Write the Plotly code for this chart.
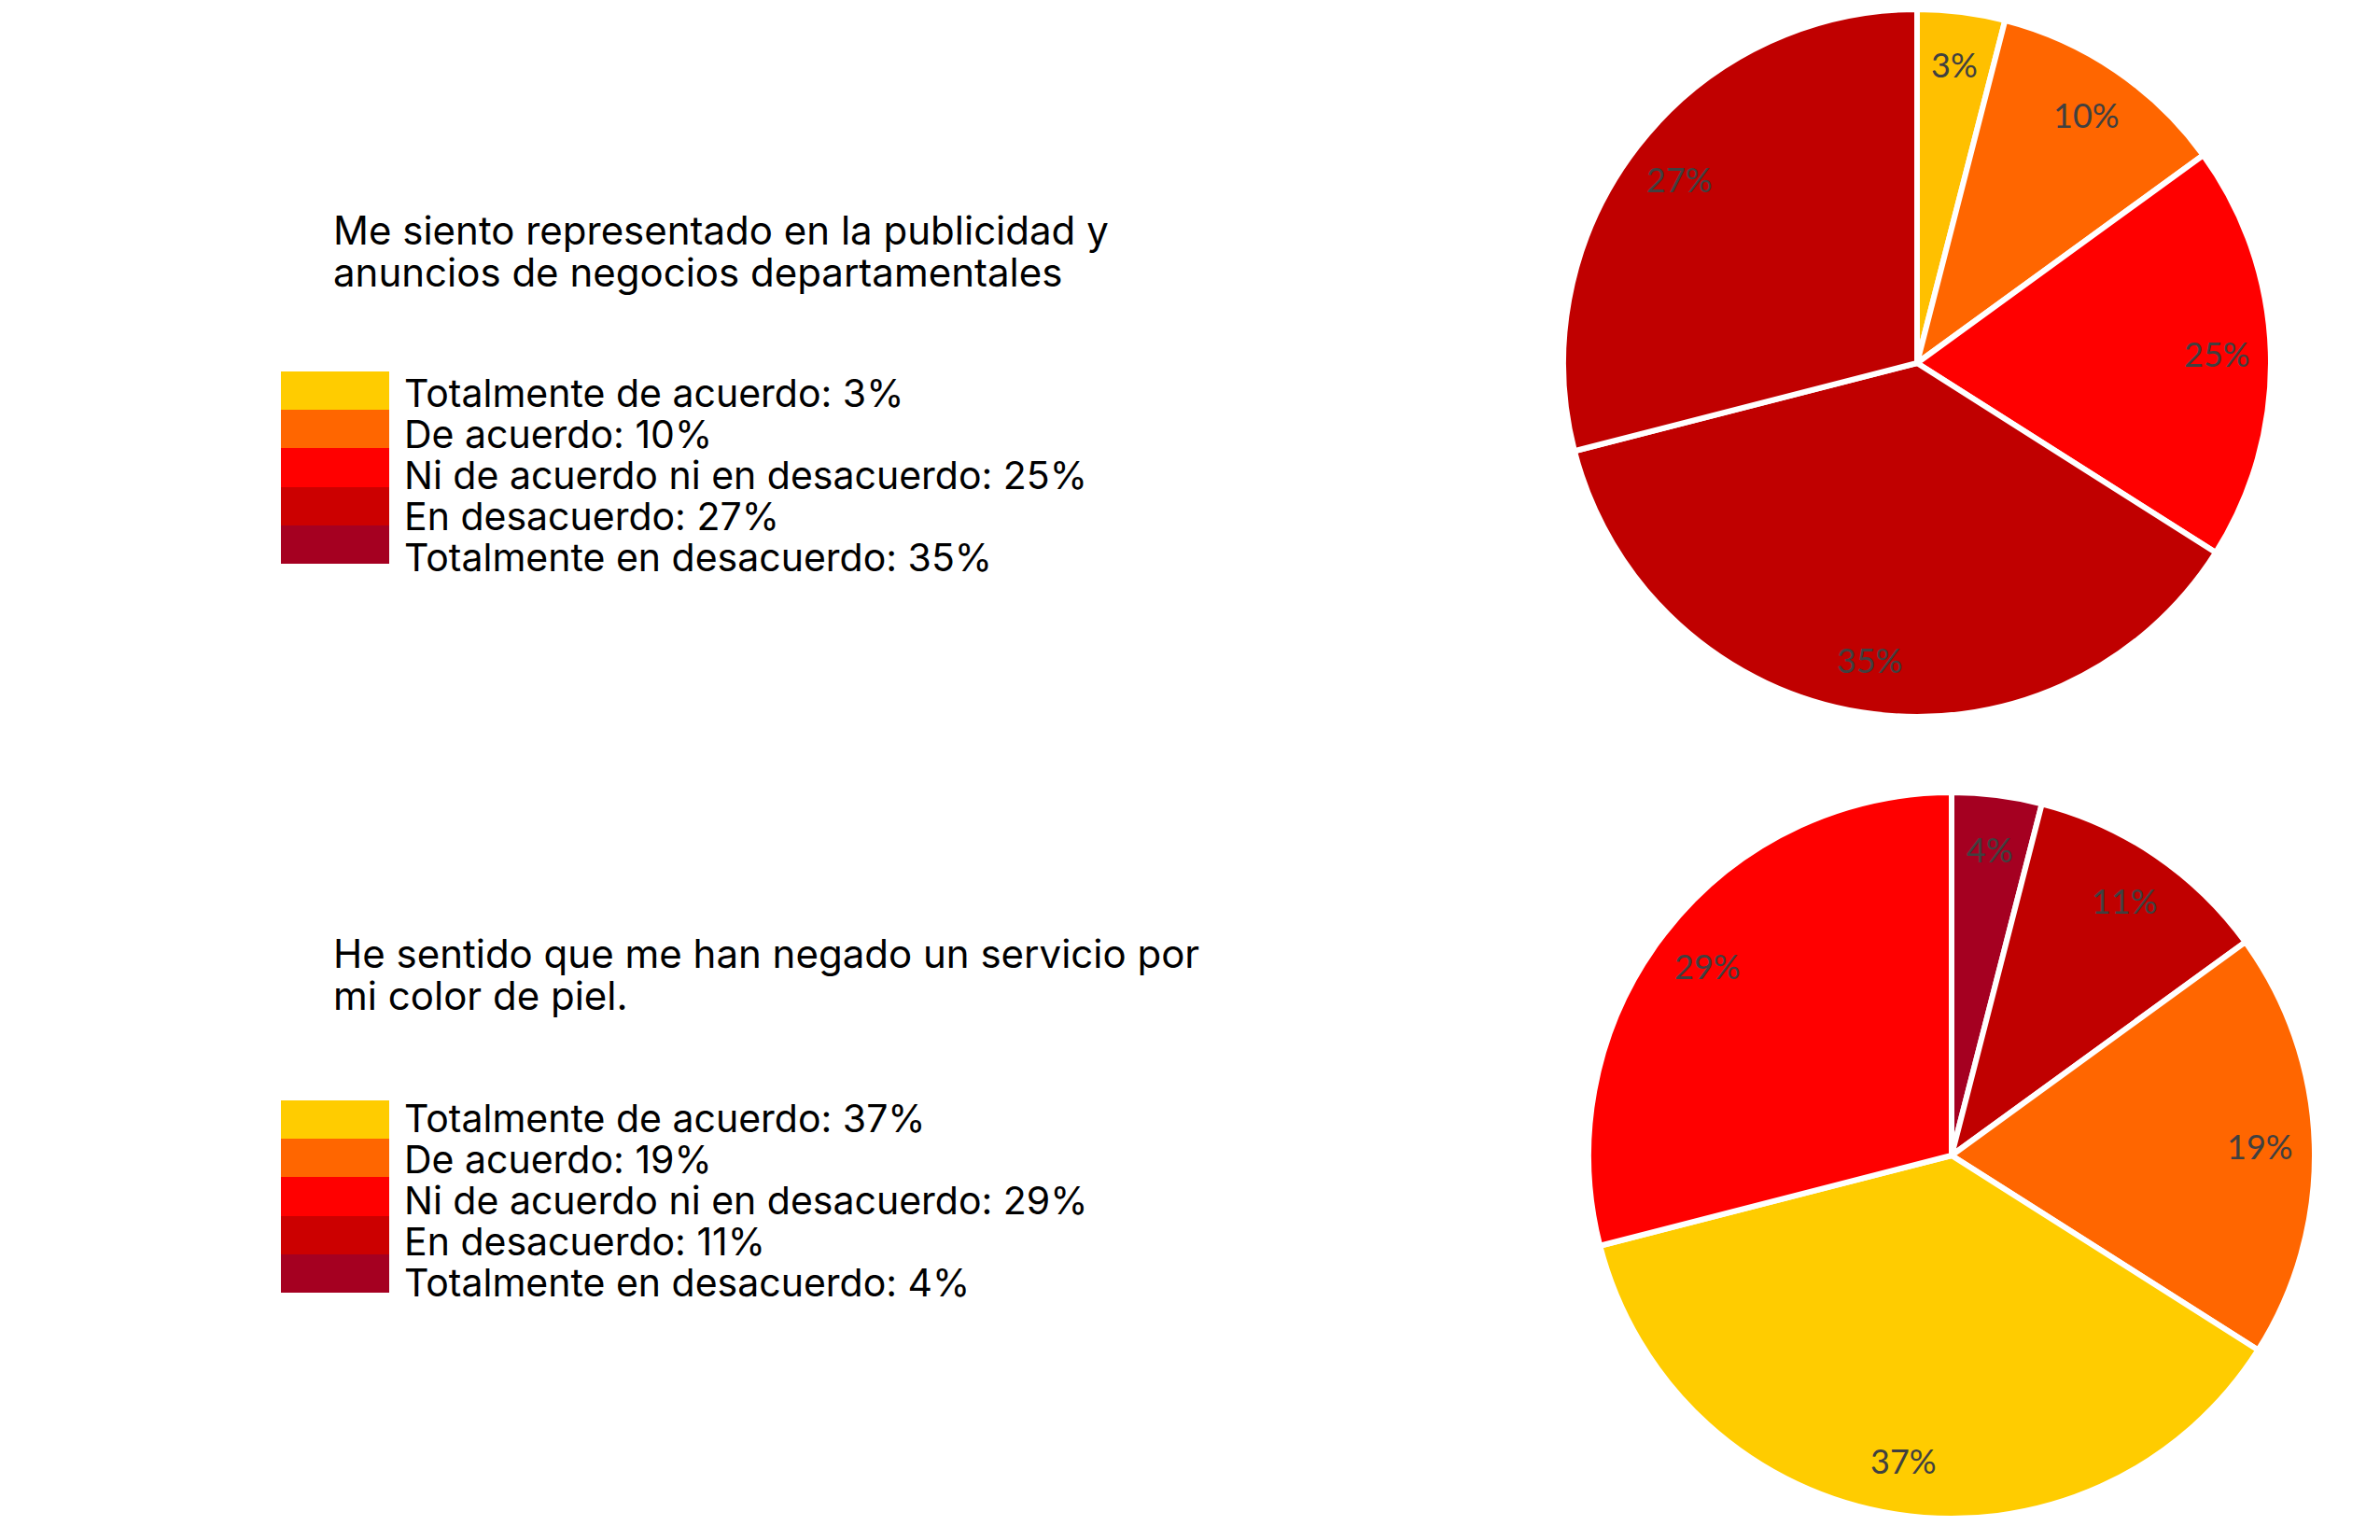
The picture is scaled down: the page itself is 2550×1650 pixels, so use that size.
import math
import plotly.graph_objects as go

W, H = 2550, 1650
OFF = 8  # page body margin added by the browser

# ---------------- data ----------------
categories = [
    "Totalmente de acuerdo",
    "De acuerdo",
    "Ni de acuerdo ni en desacuerdo",
    "En desacuerdo",
    "Totalmente en desacuerdo",
]
legend_colors = ["#FFCC00", "#FF6600", "#FF0000", "#CC0000", "#A50021"]

# Question 1
q1_title_lines = ["Me siento representado en la publicidad y",
                  "anuncios de negocios departamentales"]
q1_legend_pct = [3, 10, 25, 27, 35]
# slices as drawn (clockwise from 12 o'clock)
q1_slice_sizes = [4, 11, 19, 37, 29]
q1_slice_labels = ["3%", "10%", "25%", "35%", "27%"]
q1_slice_colors = ["#FFC000", "#FF6600", "#FF0000", "#C00000", "#C00000"]

# Question 2
q2_title_lines = ["He sentido que me han negado un servicio por",
                  "mi color de piel."]
q2_legend_pct = [37, 19, 29, 11, 4]
q2_slice_sizes = [4, 11, 19, 37, 29]
q2_slice_labels = ["4%", "11%", "19%", "37%", "29%"]
q2_slice_colors = ["#A50021", "#C00000", "#FF6600", "#FFCC00", "#FF0000"]

# ---------------- layout constants ----------------
TEXT_FONT = "Inter"
LABEL_FONT = "Lato"
LINE_PITCH = 44


def px_x(px):
    return (px - OFF) / W


def px_y(py):
    return 1 - (py - OFF) / H


def pie_domain(cx, cy, r):
    return dict(x=[px_x(cx - r), px_x(cx + r)], y=[px_y(cy + r), px_y(cy - r)])


def box_domain(x0, x1, y0, y1):
    return dict(x=[px_x(x0), px_x(x1)], y=[px_y(y1), px_y(y0)])


pie1_dom = pie_domain(2054, 389, 379)
pie2_dom = pie_domain(2091, 1238, 389)

leg1_dom = box_domain(301, 417, 398, 604)
leg2_dom = box_domain(301, 417, 1179, 1385)

fig = go.Figure()


def add_pie(sizes, labels, colors, dom):
    fig.add_trace(go.Pie(
        values=sizes,
        labels=[f"s{i}" for i in range(len(sizes))],
        marker=dict(colors=colors, line=dict(color="white", width=6)),
        sort=False,
        direction="clockwise",
        rotation=0,
        textinfo="none",
        hoverinfo="skip",
        showlegend=False,
        domain=dom,
    ))
    # data labels, Excel style near the outer edge
    total = float(sum(sizes))
    cx = (dom["x"][0] + dom["x"][1]) / 2
    cy = (dom["y"][0] + dom["y"][1]) / 2
    r_px = min((dom["x"][1] - dom["x"][0]) * W, (dom["y"][1] - dom["y"][0]) * H) / 2
    cum = 0.0
    for s, lab in zip(sizes, labels):
        mid = (cum + s / 2) / total * 2 * math.pi
        cum += s
        fig.add_annotation(
            x=cx + 0.85 * r_px * math.sin(mid) / W,
            y=cy + 0.85 * r_px * math.cos(mid) / H,
            xref="paper", yref="paper",
            text=lab, showarrow=False,
            xanchor="center", yanchor="middle",
            font=dict(family=LABEL_FONT, size=36, color="#404040"),
        )


def add_legend(pcts, dom, ax_suffix, first_mid):
    xa = "x" + ax_suffix
    ya = "y" + ax_suffix
    fig.add_trace(go.Bar(
        y=categories,
        x=[1] * len(categories),
        orientation="h",
        width=1,
        marker=dict(color=legend_colors, line=dict(width=0)),
        hoverinfo="skip",
        showlegend=False,
        xaxis=xa, yaxis=ya,
    ))
    for i, (cat, p) in enumerate(zip(categories, pcts)):
        fig.add_annotation(
            x=1, y=px_y(first_mid + LINE_PITCH * i), xref=xa, yref="paper",
            text=f"{cat}: {p}%", showarrow=False,
            xanchor="left", yanchor="middle", xshift=14,
            font=dict(family=TEXT_FONT, size=41, color="black"),
        )
    axname = "axis" + ax_suffix
    fig.update_layout(**{
        "x" + axname: dict(domain=dom["x"], range=[0, 1], visible=False,
                           fixedrange=True, anchor=ya),
        "y" + axname: dict(domain=dom["y"], range=[len(categories) - 0.5, -0.5],
                           visible=False, fixedrange=True, anchor=xa,
                           type="category"),
    })


add_pie(q1_slice_sizes, q1_slice_labels, q1_slice_colors, pie1_dom)
add_pie(q2_slice_sizes, q2_slice_labels, q2_slice_colors, pie2_dom)
add_legend(q1_legend_pct, leg1_dom, "", 421)
add_legend(q2_legend_pct, leg2_dom, "2", 1198)

for lines, first_mid in [(q1_title_lines, 247), (q2_title_lines, 1022)]:
    for i, line in enumerate(lines):
        fig.add_annotation(
            x=px_x(355), y=px_y(first_mid + LINE_PITCH * i), xref="paper", yref="paper",
            text=line, showarrow=False, align="left",
            xanchor="left", yanchor="middle",
            font=dict(family=TEXT_FONT, size=42, color="black"),
        )

fig.update_layout(
    width=W, height=H,
    margin=dict(l=0, r=0, t=0, b=0),
    paper_bgcolor="white",
    plot_bgcolor="white",
    barmode="overlay",
    bargap=0,
)

fig.write_html("out.html")
